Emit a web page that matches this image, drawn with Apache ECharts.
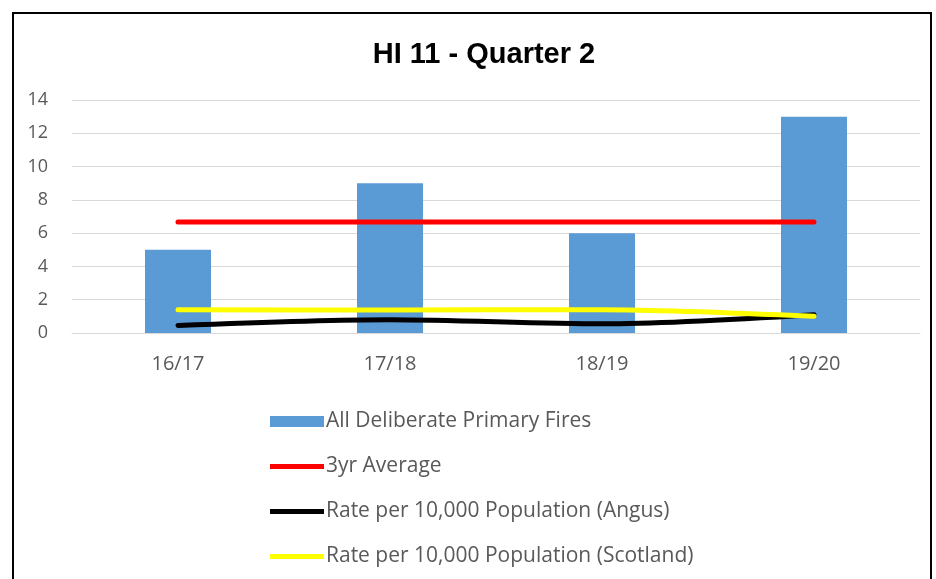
<!DOCTYPE html>
<html>
<head>
<meta charset="utf-8">
<script src="https://cdn.jsdelivr.net/npm/echarts@6/dist/echarts.min.js"></script>
<style>
html, body { margin: 0; padding: 0; background: #fff; }
#main { width: 936px; height: 579px; }
</style>
</head>
<body>
<div id="main"></div>
<script>
// categories and values
var years = ['16/17', '17/18', '18/19', '19/20'];
var fires = [5, 9, 6, 13];
var avg3yr = [6.67, 6.67, 6.67, 6.67];
var rateAngus = [0.45, 0.8, 0.55, 1.1];
var rateScotland = [1.4, 1.38, 1.4, 1.0];
var yTicks = [0, 2, 4, 6, 8, 10, 12, 14];

var chart = echarts.init(document.getElementById('main'));
var textGrey = '#595959';
var font = 'Open Sans, Noto Sans, sans-serif';
var lineIcon = 'path://M0,8.5 L54,8.5 L54,13.5 L0,13.5 Z';

chart.setOption({
    animation: false,
    title: {
        text: 'HI 11 - Quarter 2',
        left: 479,
        textAlign: 'center',
        top: 35,
        textStyle: { fontFamily: 'Liberation Sans, Arial', fontWeight: 'bold', fontSize: 29, color: '#000' }
    },
    graphic: [{
        type: 'rect',
        shape: { x: 13, y: 13, width: 918, height: 580 },
        style: { fill: 'none', stroke: '#000', lineWidth: 2 },
        silent: true
    }],
    legend: {
        orient: 'vertical',
        left: 265,
        top: 406,
        itemGap: 24,
        itemWidth: 54,
        itemHeight: 22,
        textStyle: { color: textGrey, fontSize: 21, fontFamily: font, padding: [0, 0, 0, -3] },
        data: [
            { name: 'All Deliberate Primary Fires', icon: 'path://M0,5.5 L54,5.5 L54,16.5 L0,16.5 Z' },
            { name: '3yr Average', icon: lineIcon },
            { name: 'Rate per 10,000 Population (Angus)', icon: lineIcon },
            { name: 'Rate per 10,000 Population (Scotland)', icon: lineIcon }
        ]
    },
    grid: { left: 72, right: 16, top: 100, bottom: 246 },
    xAxis: {
        type: 'category',
        data: years,
        axisLine: { lineStyle: { color: '#d9d9d9', width: 1 } },
        axisTick: { show: false },
        axisLabel: { color: textGrey, fontSize: 20, fontFamily: font, margin: 21 }
    },
    yAxis: {
        type: 'value',
        min: yTicks[0],
        max: yTicks[yTicks.length - 1],
        interval: 2,
        axisLine: { show: false },
        axisTick: { show: false },
        splitLine: { lineStyle: { color: '#d9d9d9', width: 1 } },
        axisLabel: { color: textGrey, fontSize: 18, fontFamily: font, margin: 24 }
    },
    series: [
        {
            name: 'All Deliberate Primary Fires',
            type: 'bar',
            data: fires,
            barWidth: 66,
            itemStyle: { color: '#5b9bd5' }
        },
        {
            name: '3yr Average',
            type: 'line',
            data: avg3yr,
            symbol: 'none',
            lineStyle: { color: '#ff0000', width: 5, cap: 'round' },
            itemStyle: { color: '#ff0000' }
        },
        {
            name: 'Rate per 10,000 Population (Angus)',
            type: 'line',
            data: rateAngus,
            symbol: 'none',
            smooth: 0.3,
            lineStyle: { color: '#000000', width: 5, cap: 'round' },
            itemStyle: { color: '#000000' }
        },
        {
            name: 'Rate per 10,000 Population (Scotland)',
            type: 'line',
            data: rateScotland,
            symbol: 'none',
            smooth: 0.3,
            lineStyle: { color: '#ffff00', width: 5, cap: 'round' },
            itemStyle: { color: '#ffff00' }
        }
    ]
});
</script>
</body>
</html>
